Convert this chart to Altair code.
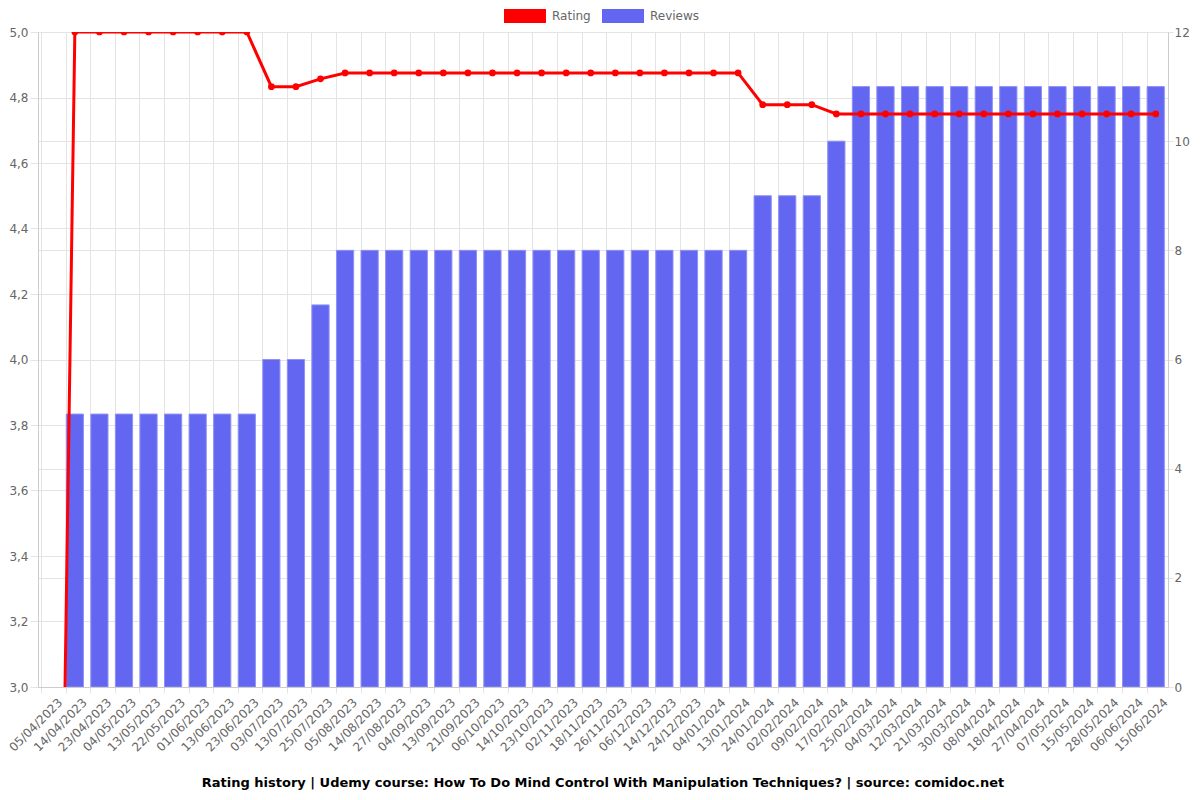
import altair as alt
import pandas as pd

dates = ["05/04/2023", "14/04/2023", "23/04/2023", "04/05/2023", "13/05/2023", "22/05/2023",
         "01/06/2023", "13/06/2023", "23/06/2023", "03/07/2023", "13/07/2023", "25/07/2023",
         "05/08/2023", "14/08/2023", "27/08/2023", "04/09/2023", "13/09/2023", "21/09/2023",
         "06/10/2023", "14/10/2023", "23/10/2023", "02/11/2023", "18/11/2023", "26/11/2023",
         "06/12/2023", "14/12/2023", "24/12/2023", "04/01/2024", "13/01/2024", "24/01/2024",
         "02/02/2024", "09/02/2024", "17/02/2024", "25/02/2024", "04/03/2024", "12/03/2024",
         "21/03/2024", "30/03/2024", "08/04/2024", "18/04/2024", "27/04/2024", "07/05/2024",
         "15/05/2024", "28/05/2024", "06/06/2024", "15/06/2024"]

reviews = [0] + [5] * 8 + [6, 6, 7] + [8] * 17 + [9, 9, 9, 10] + [11] * 13

ratings = ([0.0] + [5.0] * 8 + [4.833, 4.833, 4.857] + [4.875] * 17
           + [4.778, 4.778, 4.778, 4.75] + [4.75] * 13)

df = pd.DataFrame({"date": dates, "reviews": reviews, "rating": ratings})

series_names = ["Rating", "Reviews"]
series_colors = ["#ff0000", "#6366f1"]

color_scale = alt.Scale(domain=series_names, range=series_colors)

x_enc = alt.X("date:N", sort=dates, title=None,
              scale=alt.Scale(paddingInner=0.3, paddingOuter=0.15),
              axis=alt.Axis(labelAngle=-45, labelAlign="right", labelBaseline="middle",
                            bandPosition=0, labelOffset=10, labelColor="#666",
                            labelFontSize=12, labelFont="DejaVu Sans", labelPadding=7,
                            grid=True, gridColor="#e4e4e4", tickColor="#e4e4e4",
                            domainColor="#cccccc", tickSize=6))

legend = alt.Legend(title=None, orient="none", legendX=466, legendY=-37,
                    direction="horizontal", padding=0,
                    symbolType="M-1,-0.3333H1V0.3333H-1Z",
                    symbolSize=1764, symbolStrokeWidth=0,
                    labelFontSize=12, labelColor="#666", labelOffset=6,
                    labelFont="DejaVu Sans", columnPadding=11,
                    symbolOpacity=1)

bars = alt.Chart(df).transform_calculate(series="'Reviews'").transform_filter(
    "datum.reviews > 0").mark_bar(
    stroke="#8f91f5", strokeWidth=1, clip=True).encode(
    x=x_enc,
    y=alt.Y("reviews:Q", title=None,
            scale=alt.Scale(domain=[0, 12], nice=False),
            axis=alt.Axis(orient="right", values=[0, 2, 4, 6, 8, 10, 12],
                          labelColor="#666", labelFontSize=12, labelFont="DejaVu Sans",
                          labelPadding=1,
                          grid=True, gridColor="#e4e4e4", tickColor="#e4e4e4",
                          domainColor="#cccccc", tickSize=5)),
    color=alt.Color("series:N", scale=color_scale, legend=legend),
)

line = alt.Chart(df).transform_calculate(series="'Rating'").mark_line(
    strokeWidth=3, clip=True,
    point=alt.OverlayMarkDef(size=45, filled=True, clip=True)).encode(
    x=alt.X("date:N", sort=dates),
    y=alt.Y("rating:Q", title=None,
            scale=alt.Scale(domain=[3.0, 5.0], nice=False, zero=False),
            axis=alt.Axis(orient="left", values=[3.0, 3.2, 3.4, 3.6, 3.8, 4.0, 4.2, 4.4, 4.6, 4.8, 5.0],
                          labelExpr="replace(format(datum.value, '.1f'), '.', ',')",
                          labelColor="#666", labelFontSize=12, labelFont="DejaVu Sans",
                          grid=True, gridColor="#e4e4e4", tickColor="#e4e4e4",
                          domainColor="#cccccc", tickSize=8)),
    color=alt.Color("series:N", scale=color_scale, legend=legend),
)

chart = alt.layer(bars, line).resolve_scale(y="independent").properties(
    width=1130, height=655,
    autosize=alt.AutoSizeParams(type="none"),
    padding={"left": 30, "top": 24, "right": 24, "bottom": 106},
    title=alt.TitleParams(
        "Rating history | Udemy course: How To Do Mind Control With Manipulation Techniques? | source: comidoc.net",
        orient="bottom", anchor="middle", fontSize=13, fontWeight="bold",
        font="DejaVu Sans", color="#000", offset=24),
).configure_view(stroke=None)

chart.save("out.html", embed_options={"renderer": "svg", "actions": False})
